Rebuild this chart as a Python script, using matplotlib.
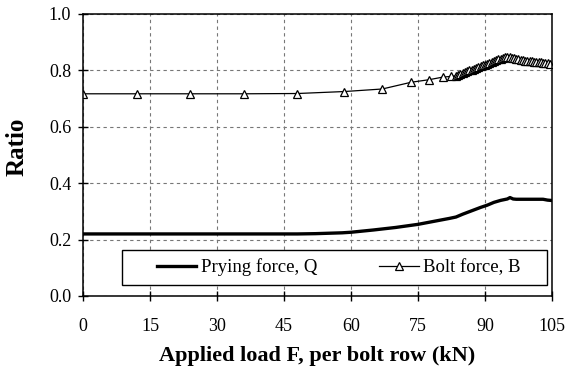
import matplotlib
matplotlib.use("Agg")
import matplotlib.pyplot as plt
from matplotlib.patches import Rectangle

plt.rcParams["font.family"] = ["Liberation Serif", "DejaVu Serif"]

# Prying force ratio Q / F
load_q = [0, 10, 20, 30, 40, 48, 52, 56, 58, 60, 65, 70, 75, 79, 82, 83.5,
          85, 87, 89, 90.5, 92, 93.5, 95, 95.6, 96.3, 97, 99, 101, 103, 104, 104.7]
ratio_q = [0.220, 0.220, 0.220, 0.220, 0.220, 0.220, 0.221, 0.223, 0.224, 0.226,
           0.234, 0.243, 0.254, 0.266, 0.275, 0.280, 0.290, 0.302, 0.314, 0.322,
           0.332, 0.339, 0.344, 0.349, 0.344, 0.343, 0.343, 0.343, 0.343, 0.340, 0.339]

# Bolt force ratio B / F
load_b = [0, 12, 24, 36, 48, 58.5, 67, 73.5, 77.5, 80.5, 82.5, 83.5,
          84, 84.5, 85, 85.5, 86, 86.5, 87, 87.5, 88, 88.5, 89, 89.5,
          90, 90.5, 91, 91.5, 92, 92.5, 93, 93.5, 94, 94.5, 95, 95.5,
          96, 96.5, 97, 97.5, 98, 98.5, 99, 99.5, 100, 100.5, 101, 101.5,
          102, 102.5, 103, 103.5, 104, 104.5]
ratio_b = [0.717, 0.717, 0.717, 0.717, 0.718, 0.725, 0.734, 0.758, 0.767, 0.776, 0.779, 0.781,
           0.783, 0.787, 0.791, 0.794, 0.797, 0.800, 0.803, 0.806, 0.809, 0.812, 0.815, 0.818,
           0.820, 0.823, 0.827, 0.830, 0.833, 0.836, 0.839, 0.842, 0.844, 0.846, 0.847, 0.847,
           0.845, 0.843, 0.841, 0.840, 0.838, 0.837, 0.835, 0.834, 0.833, 0.832, 0.831, 0.830,
           0.829, 0.828, 0.827, 0.826, 0.825, 0.824]

x_ticks = [0, 15, 30, 45, 60, 75, 90, 105]
y_ticks = [0.0, 0.2, 0.4, 0.6, 0.8, 1.0]

fig = plt.figure(figsize=(5.7, 3.74), dpi=100)
ax = fig.add_axes([0.1456, 0.2086, 0.8228, 0.754])

ax.plot(load_q, ratio_q, color="black", linewidth=2.4, label="Prying force, Q")
ax.plot(load_b, ratio_b, color="black", linewidth=0.9, marker="^", markersize=5.8,
        markerfacecolor="white", markeredgecolor="black", markeredgewidth=0.9,
        label="Bolt force, B")

ax.set_xlim(0, 105)
ax.set_ylim(0, 1.0)
ax.set_xticks(x_ticks)
ax.set_yticks(y_ticks)
ax.set_yticklabels([f"{v:.1f}" for v in y_ticks])
ax.tick_params(direction="inout", length=7, width=1, labelsize=13, colors="black")
ax.tick_params(axis="x", pad=12)
ax.tick_params(axis="y", pad=5)
ax.grid(True, color="#777777", linestyle=(0, (3, 3)), linewidth=0.8)
for sp in ax.spines.values():
    sp.set_linewidth(1.1)

ax.set_xlabel("Applied load F, per bolt row (kN)", fontsize=16, fontweight="bold",
              labelpad=8)
ax.set_ylabel("Ratio", fontsize=18, fontweight="bold", va="center")
ax.yaxis.set_label_coords(-0.14, 0.53)

# legend box sits inside the plot, entries centred-left inside it
ax.add_patch(Rectangle((0.0825, 0.039), 0.906, 0.124, transform=ax.transAxes,
                       facecolor="white", edgecolor="black", linewidth=1.0, zorder=4))
leg = ax.legend(loc="center left", bbox_to_anchor=(0.158, 0.101), ncol=2,
                fontsize=13.5, frameon=False, handlelength=2.1, handletextpad=0.25,
                columnspacing=3.3, borderpad=0, borderaxespad=0, numpoints=1)
leg.set_zorder(5)

fig.savefig("out.png", dpi=100)
